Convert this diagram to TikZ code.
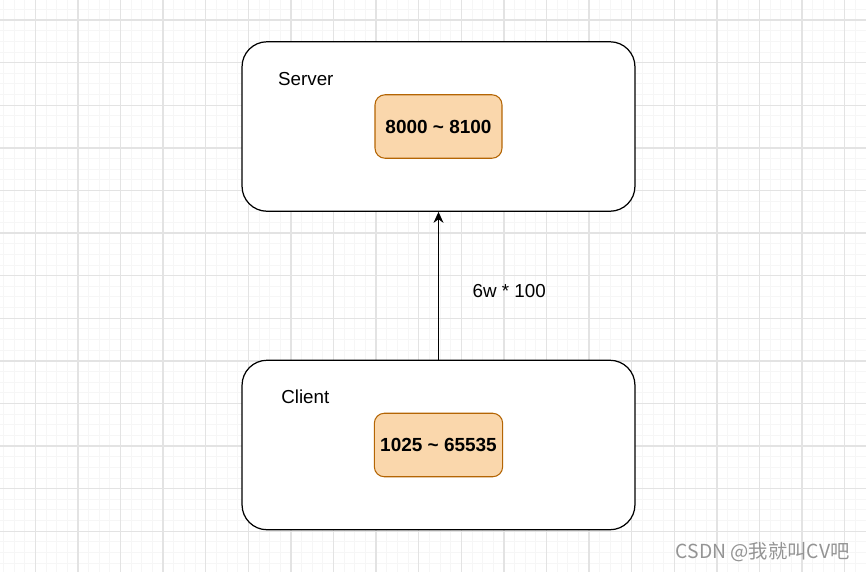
\documentclass[tikz,border=0pt]{standalone}
\usepackage{fontspec}
\setmainfont{Liberation Sans}
\newfontfamily\cjkfont{Noto Sans CJK SC}
\usepackage{tikz}
\usetikzlibrary{arrows.meta, positioning}
\definecolor{portfill}{HTML}{FAD7AC}
\definecolor{portdraw}{HTML}{B46504}
\definecolor{minorgrid}{HTML}{F6F6F6}
\definecolor{majorgrid}{HTML}{E3E3E3}
\tikzset{
    hostbox/.style={rectangle, rounded corners=0.5cm, draw=black, line width=0.7pt,
                    fill=white, minimum width=7.86cm, minimum height=3.39cm},
    portbox/.style={rectangle, rounded corners=0.2cm, draw=portdraw, line width=0.6pt,
                    fill=portfill, minimum width=2.54cm, minimum height=1.27cm,
                    font=\fontsize{10.8}{13}\selectfont\bfseries},
    hostlbl/.style={font=\fontsize{10.7}{13}\selectfont, inner sep=0pt},
    arrow/.style={-{Stealth[length=0.22cm, width=0.2cm]}, line width=0.7pt, draw=black},
    edgelbl/.style={font=\fontsize{10.7}{13}\selectfont, inner sep=0pt},
    minorline/.style={draw=minorgrid, line width=0.5pt},
    majorline/.style={draw=majorgrid, line width=0.8pt},
}

\begin{document}
\begin{tikzpicture}[x=0.02cm, y=-0.02cm]
        \useasboundingbox[fill=white] (0,0) rectangle (866,572);
        % background grid
        \begin{scope}
            \clip (0,0) rectangle (866,572);
            \foreach \i in {0,...,84} {
                \draw[minorline] ({-7.3+10.65*\i},0) -- ({-7.3+10.65*\i},572);
                \draw[minorline] (0,{-22.6+10.65*\i}) -- (866,{-22.6+10.65*\i});
            }
            \foreach \i in {0,...,21} {
                \draw[majorline] ({-7.3+42.6*\i},0) -- ({-7.3+42.6*\i},572);
                \draw[majorline] (0,{-22.6+42.6*\i}) -- (866,{-22.6+42.6*\i});
            }
        \end{scope}
        \node[hostbox] (srv) at (438.5,126.5) {};
        \node[hostbox] (cli) at (438.5,445) {};
        \node[portbox] (srvport) at (srv.center) {8000 \textasciitilde{} 8100};
        \node[portbox] (cliport) at (cli.center) {1025 \textasciitilde{} 65535};
        \node[hostlbl] (srvlbl) at (305.8,79) {Server};
        \node[hostlbl] (clilbl) at (305.3,396.5) {Client};
        \draw[arrow] (cli.north) -- node[edgelbl, right, xshift=0.67cm, yshift=-0.11cm] (rate) {6w * 100} (srv.south);
        \node[font=\cjkfont\fontsize{11}{13}\selectfont, text=black!42, inner sep=0pt,
              anchor=east] (mark) at (850,552) {CSDN @我就叫CV吧};
    \end{tikzpicture}
\end{document}
